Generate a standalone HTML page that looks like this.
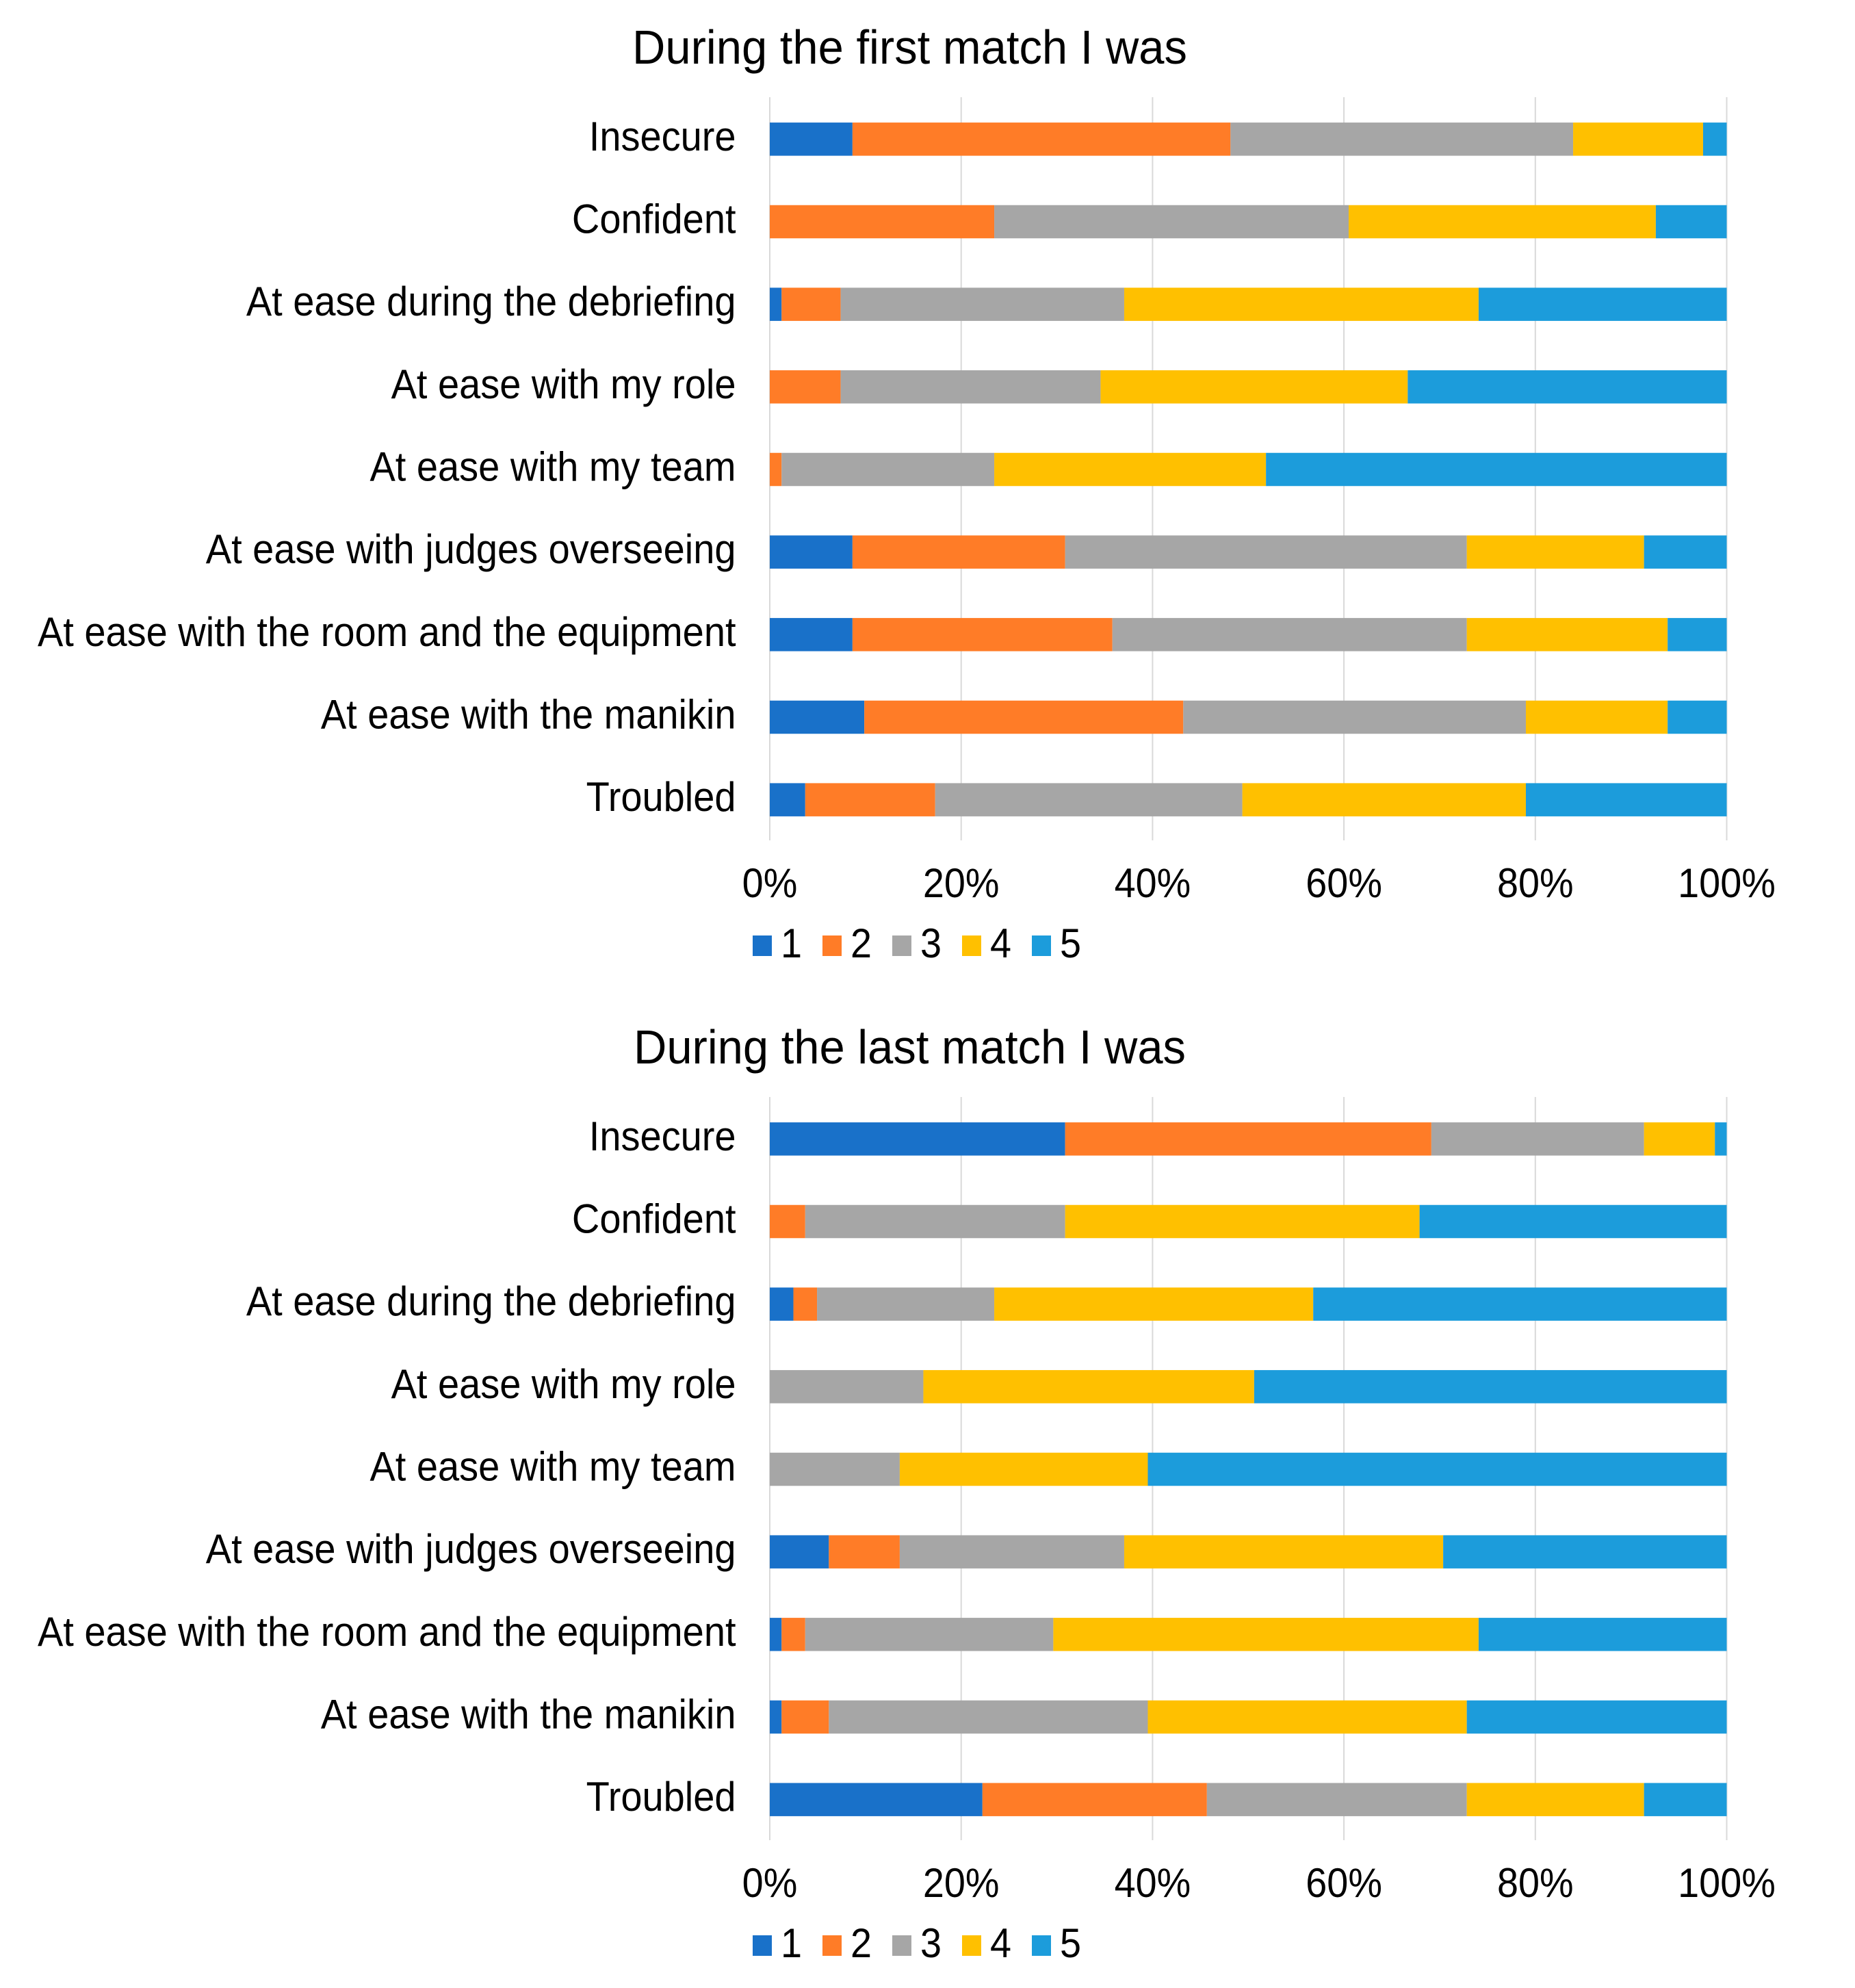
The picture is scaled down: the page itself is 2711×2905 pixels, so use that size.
<!DOCTYPE html>
<html lang="en">
<head>
<meta charset="utf-8">
<title>During the first and last match</title>
<style>
html,body{margin:0;padding:0;background:#fff;}
svg{display:block;}
text{font-family:"Liberation Sans",Arial,sans-serif;fill:#000;}
</style>
</head>
<body>
<svg id="figure" xmlns="http://www.w3.org/2000/svg" width="2711" height="2905" viewBox="0 0 2711 2905">
  <rect x="0" y="0" width="2711" height="2905" fill="#ffffff"/>
  <g id="chart-first">
    <text x="924" y="93" font-size="70" textLength="811" lengthAdjust="spacingAndGlyphs">During the first match I was</text>
  </g>
  <g id="chart-last">
    <text x="926" y="1554" font-size="70" textLength="807" lengthAdjust="spacingAndGlyphs">During the last match I was</text>
  </g>
</svg>
<script>
const categories = ["Insecure","Confident","At ease during the debriefing","At ease with my role","At ease with my team","At ease with judges overseeing","At ease with the room and the equipment","At ease with the manikin","Troubled"];
const seriesNames = ["1","2","3","4","5"];
const tickValues = [0,20,40,60,80,100];
const tickLabels = ["0%","20%","40%","60%","80%","100%"];
const seriesColors = ["#1971C9","#FF7C27","#A6A6A6","#FFC000","#1C9CDB"];

const firstRating1 = [7,0,1,0,0,7,7,8,3];
const firstRating2 = [32,19,5,6,1,18,22,27,11];
const firstRating3 = [29,30,24,22,18,34,30,29,26];
const firstRating4 = [11,26,30,26,23,15,17,12,24];
const firstRating5 = [2,6,21,27,39,7,5,5,17];

const lastRating1 = [25,0,2,0,0,5,1,1,18];
const lastRating2 = [31,3,2,0,0,6,2,4,19];
const lastRating3 = [18,22,15,13,11,19,21,27,22];
const lastRating4 = [6,30,27,28,21,27,36,27,15];
const lastRating5 = [1,26,35,40,49,24,21,22,7];

const NS = "http://www.w3.org/2000/svg";
const plotLeft = 1125, plotRight = 2523.5, plotTop = 142, plotBottom = 1228;
const textScaleX = 0.933, labelSize = 60, tickScaleX = 0.93;

function xScale(pct){ return plotLeft + (plotRight - plotLeft) * pct / 100; }

function addText(parent, str, x, y, anchor, name, sx){
  const t = document.createElementNS(NS, "text");
  t.setAttribute("transform", "translate(" + x + "," + y + ") scale(" + sx + ",1)");
  t.setAttribute("font-size", labelSize);
  t.setAttribute("text-anchor", anchor);
  
  
  t.textContent = str;
  parent.appendChild(t);
}

function drawChart(groupId, prefix, series, dy){
  const g = document.getElementById(groupId);
  const top = plotTop + dy, bottom = plotBottom + dy;
  const band = (bottom - top) / categories.length;
  const barHeight = 48.5;

  tickValues.forEach(function(v, i){
    const line = document.createElementNS(NS, "line");
    line.setAttribute("x1", xScale(v));
    line.setAttribute("x2", xScale(v));
    line.setAttribute("y1", top);
    line.setAttribute("y2", bottom);
    line.setAttribute("stroke", "#d9d9d9");
    line.setAttribute("stroke-width", "2");
    
    
    g.appendChild(line);
    addText(g, tickLabels[i], xScale(v), 1311 + dy, "middle", prefix + "-x-tick-" + v, tickScaleX);
  });

  categories.forEach(function(cat, c){
    const cy = top + band * (c + 0.5) + 1;
    addText(g, cat, 1075.5, cy + 16.5, "end", prefix + "-category-label-" + c, textScaleX);
    let total = 0;
    series.forEach(function(s){ total += s[c]; });
    let cum = 0;
    series.forEach(function(s, k){
      const x0 = xScale(cum / total * 100);
      cum += s[c];
      const x1 = xScale(cum / total * 100);
      if (s[c] <= 0) return;
      const bar = document.createElementNS(NS, "rect");
      bar.setAttribute("x", x0);
      bar.setAttribute("y", cy - barHeight / 2);
      bar.setAttribute("width", x1 - x0);
      bar.setAttribute("height", barHeight);
      bar.setAttribute("fill", seriesColors[k]);
      
      
      g.appendChild(bar);
    });
  });

  seriesNames.forEach(function(name, k){
    const sx = 1100 + 102 * k;
    const swatch = document.createElementNS(NS, "rect");
    swatch.setAttribute("x", sx);
    swatch.setAttribute("y", 1367 + dy);
    swatch.setAttribute("width", 28);
    swatch.setAttribute("height", 30);
    swatch.setAttribute("fill", seriesColors[k]);
    
    
    g.appendChild(swatch);
    addText(g, name, sx + 41, 1399 + dy, "start", prefix + "-legend-label-" + name, tickScaleX);
  });
}

drawChart("chart-first", "first", [firstRating1, firstRating2, firstRating3, firstRating4, firstRating5], 0);
drawChart("chart-last", "last", [lastRating1, lastRating2, lastRating3, lastRating4, lastRating5], 1461);
</script>
</body>
</html>
